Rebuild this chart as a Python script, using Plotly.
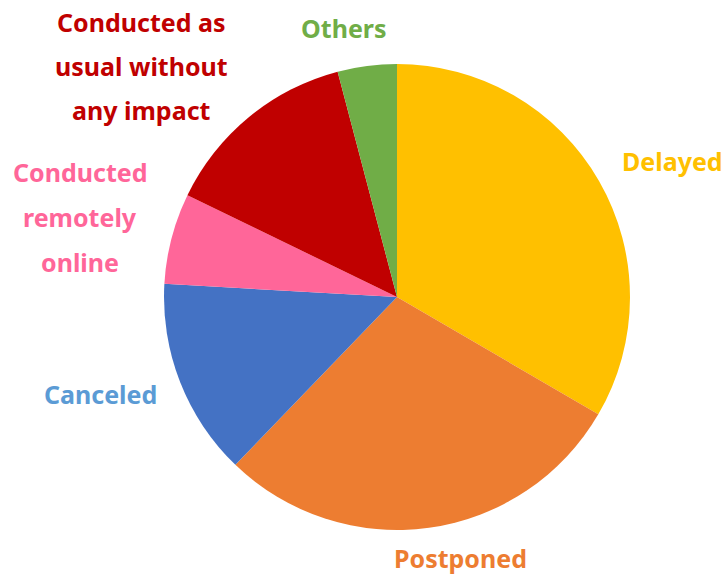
import plotly.graph_objects as go

W, H = 727, 575

categories = ["Delayed", "Postponed", "Canceled", "Conducted remotely online",
              "Conducted as usual without any impact", "Others"]
values = [33.4, 28.8, 13.7, 6.3, 13.7, 4.1]
slice_colors = ["#FFC000", "#ED7D31", "#4472C4", "#FF6699", "#C00000", "#70AD47"]

# label lines, colors and pixel centers (x, y from top)
label_lines = [
    ("Delayed", "#FFC000", 672, 161),
    ("Postponed", "#ED7D31", 461, 558),
    ("Canceled", "#5B9BD5", 100, 394),
    ("Conducted", "#FF6699", 80, 172),
    ("remotely", "#FF6699", 80, 217),
    ("online", "#FF6699", 80, 262),
    ("Conducted as", "#C00000", 141, 22),
    ("usual without", "#C00000", 141, 66),
    ("any impact", "#C00000", 141, 110),
    ("Others", "#70AD47", 344, 28),
]

cx, cy, r = 397, 297, 233

fig = go.Figure(go.Pie(
    labels=categories,
    values=values,
    marker=dict(colors=slice_colors, line=dict(width=0)),
    sort=False,
    direction="clockwise",
    rotation=0,
    textinfo="none",
    hoverinfo="label+percent",
    showlegend=False,
    domain=dict(x=[(cx - r) / W, (cx + r) / W], y=[1 - (cy + r) / H, 1 - (cy - r) / H]),
))

for text, color, x, y in label_lines:
    fig.add_annotation(
        text=text, x=x / W, y=1 - y / H, xref="paper", yref="paper",
        showarrow=False, xanchor="center", yanchor="middle",
        font=dict(family="Noto Sans", size=25, color=color, weight="bold"),
    )

fig.update_layout(
    width=W, height=H,
    margin=dict(l=0, r=0, t=0, b=0),
    paper_bgcolor="white", plot_bgcolor="white",
)

fig.write_html("out.html", config={"displayModeBar": False},
               post_script="document.body.style.margin='0';document.body.style.overflow='hidden';")
